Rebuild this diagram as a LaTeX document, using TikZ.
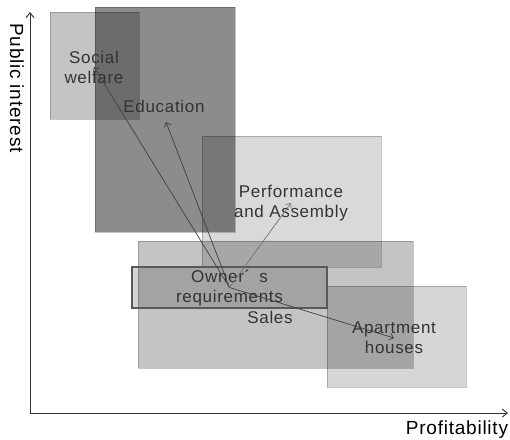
\documentclass[tikz,border=0pt]{standalone}
\usepackage{fontspec}
\setmainfont{Liberation Sans}[LetterSpace=4]
\usetikzlibrary{arrows.meta}
\begin{document}
\begin{tikzpicture}[x=1pt,y=-1pt,
  zone/.style={fill=black, fill opacity=#1, draw=black, draw opacity=0.22, line width=0.6pt},
  lbl/.style={font=\fontsize{17}{20}\selectfont, align=center, text=black!80, inner sep=0pt},
  axlbl/.style={font=\fontsize{19}{22}\selectfont, text=black, inner sep=0pt},
  link/.style={-{Straight Barb[length=4pt,width=7pt]}, draw=black!75, line width=0.7pt},
  axis/.style={-{Straight Barb[length=5pt,width=8pt]}, draw=black!80, line width=0.9pt}
]
\useasboundingbox (0,0) rectangle (510,439);
% zones
\path[zone=0.23] (50,12) rectangle (139,119);
\path[zone=0.45] (95,7) rectangle (235,232);
\path[zone=0.15] (202,136) rectangle (381,267);
\path[zone=0.23] (138,241) rectangle (413,368);
\path[zone=0.16] (327,286) rectangle (466,387);
% axes
\coordinate (orig) at (30,413);
\coordinate (ytop) at (30,12);
\coordinate (xend) at (508,413);
\draw[axis] (orig) -- (ytop);
\draw[axis] (orig) -- (xend);
\node[axlbl, rotate=-90] (yl) at (17,88) {Public interest};
\node[axlbl] (xl) at (457,430) {Profitability};
% owner box
\node[lbl, draw=black!65, line width=2pt, fill=black, fill opacity=0.17, text opacity=1,
      minimum width=195pt, minimum height=41pt] (own) at (229.5,287.5) {Owner´\hspace{9pt}s\\requirements};
% labels
\node[lbl] (soc) at (94,67) {Social\\welfare};
\node[lbl] (edu) at (164,106) {Education};
\node[lbl] (perf) at (291,203) {Performance\\and Assembly};
\node[lbl] (sales) at (270,317) {Sales};
\node[lbl] (apt) at (394,338) {Apartment\\houses};
\coordinate (edutip) at (166,122);
% links
\draw[link] (own.center) -- (soc.center);
\draw[link] (own.center) -- (edutip);
\draw[link, draw=black!55] (own.center) -- (perf.center);
\draw[link] (own.center) -- (apt.center);
\end{tikzpicture}
\end{document}
